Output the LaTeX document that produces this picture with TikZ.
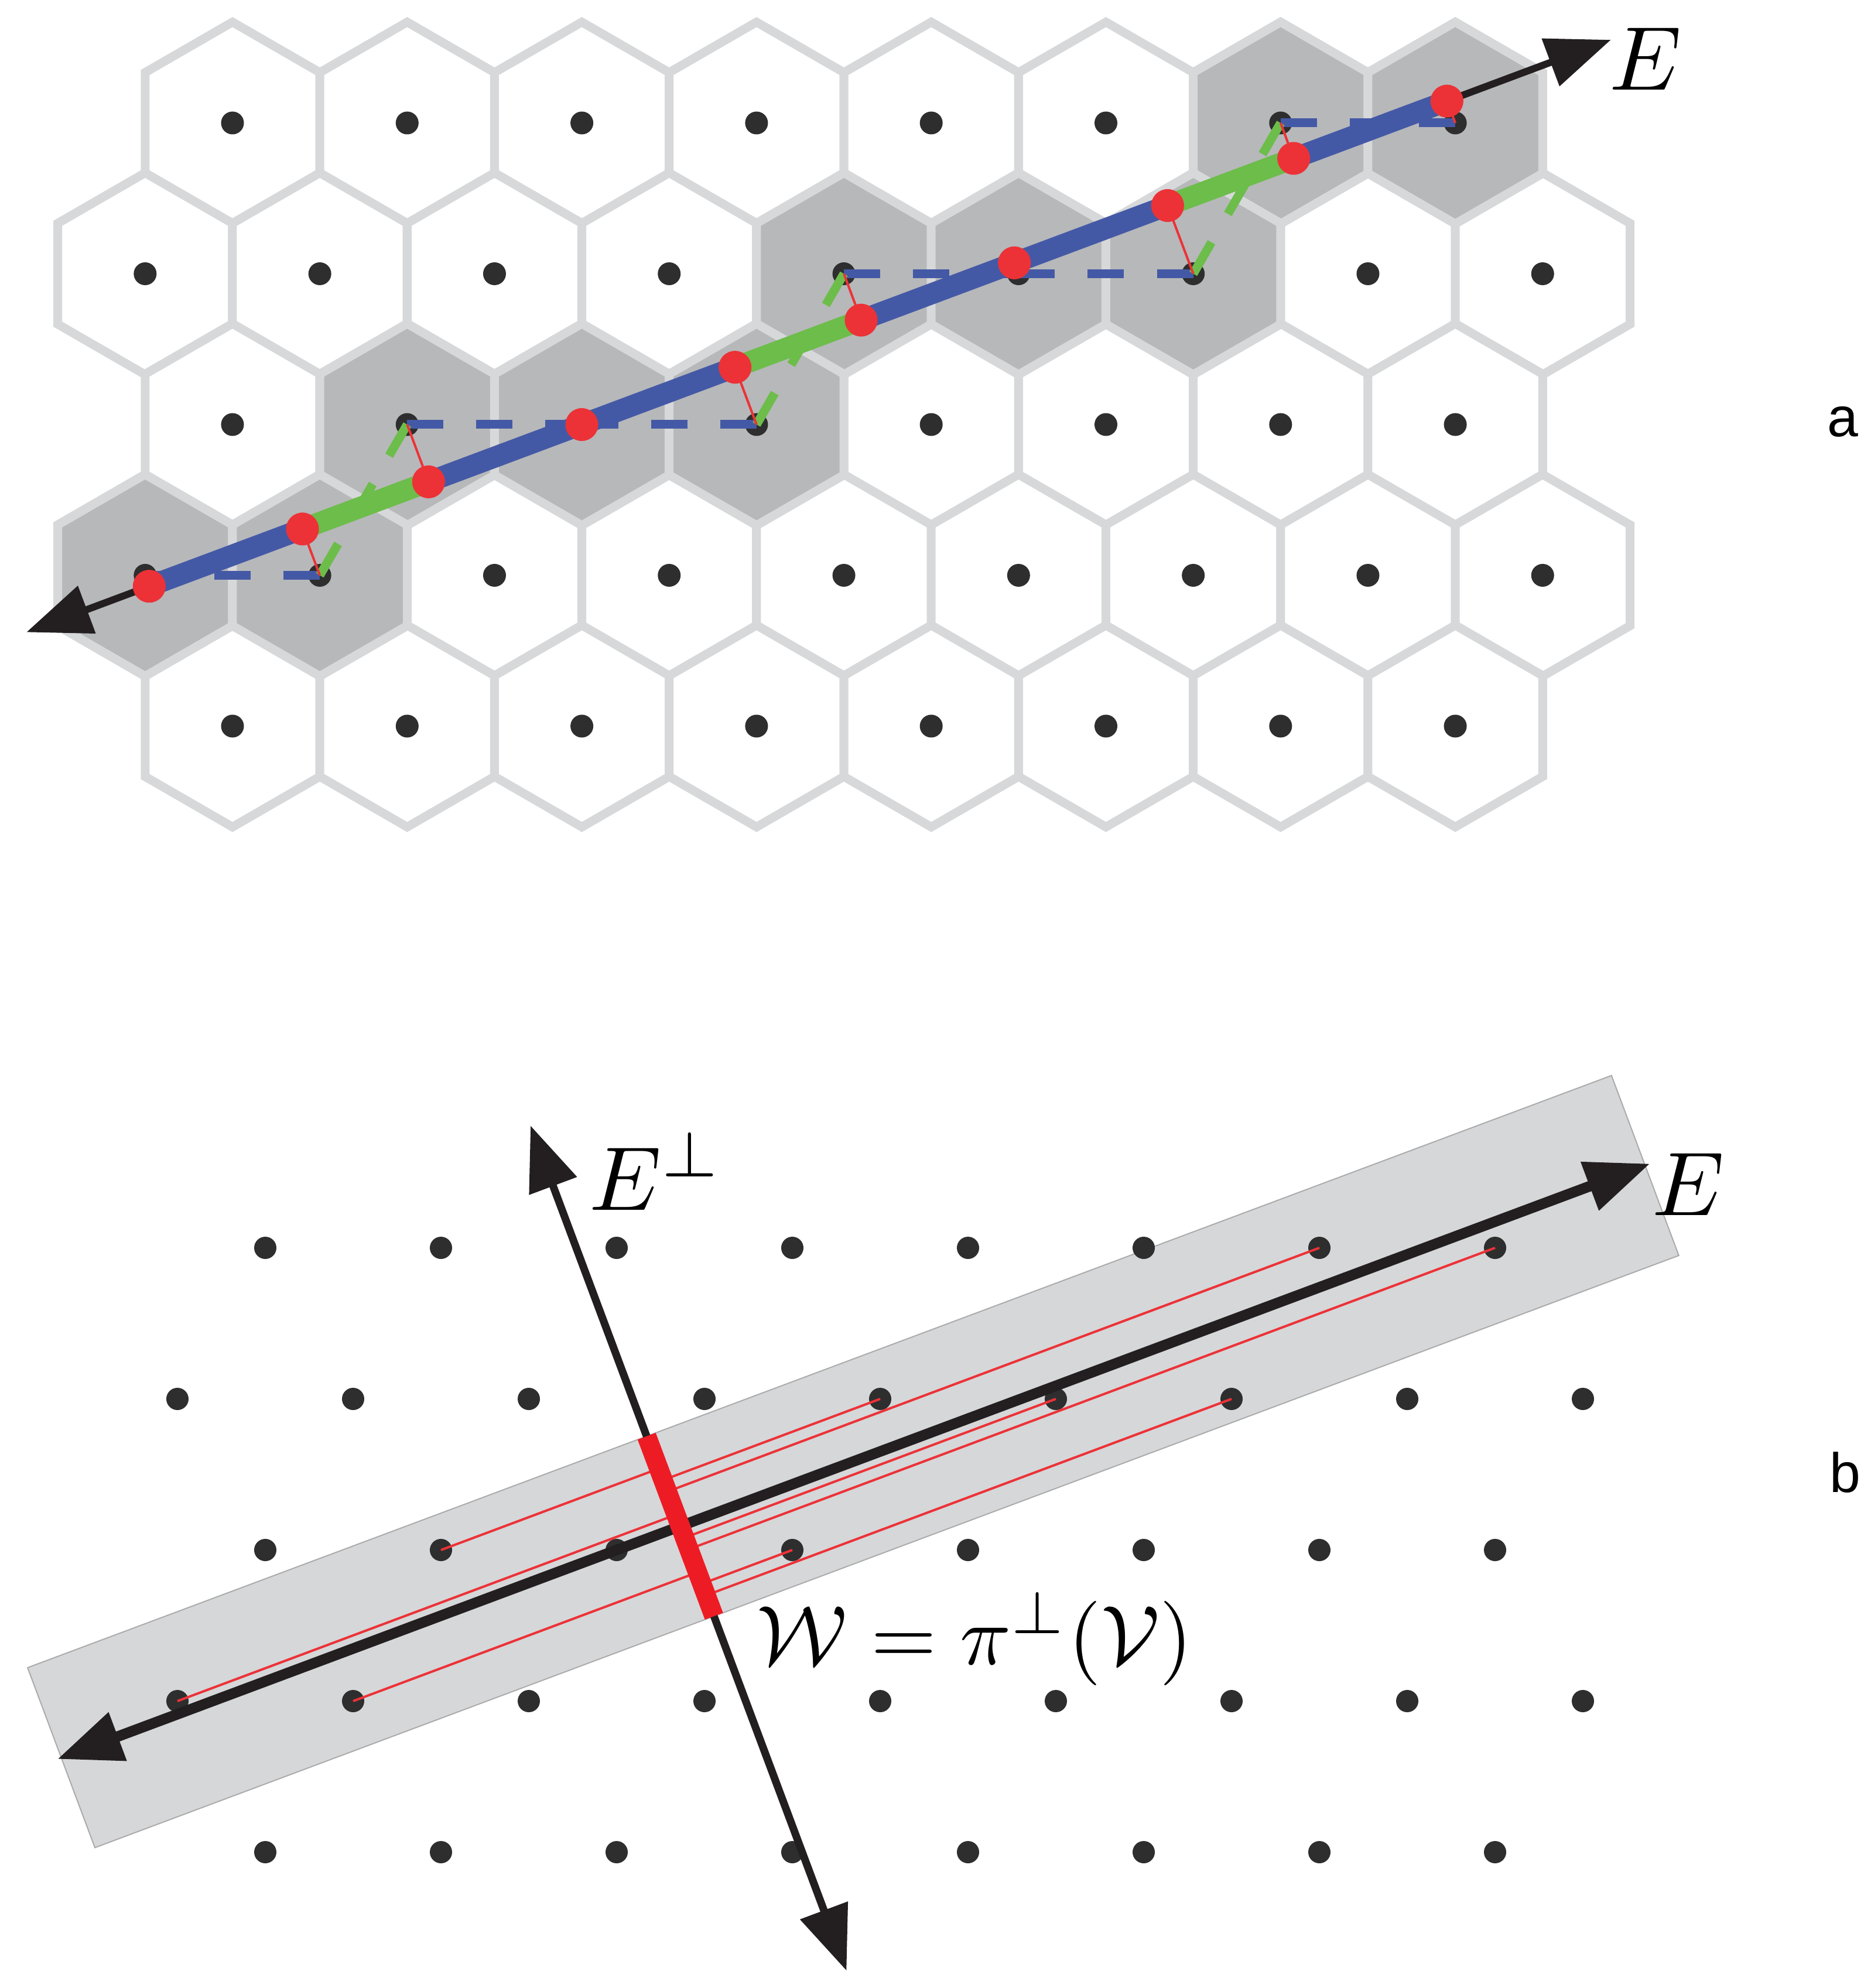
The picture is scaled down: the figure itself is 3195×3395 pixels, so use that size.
\documentclass[tikz,border=0pt]{standalone}
\usepackage{fontspec}
\newfontfamily\labelfont{Liberation Sans}
\usetikzlibrary{calc,arrows.meta}
\definecolor{hexedge}{HTML}{D7D8DA}
\definecolor{hexshade}{HTML}{B7B8BA}
\definecolor{latdot}{HTML}{2E2E2E}
\definecolor{tileblue}{HTML}{4459A6}
\definecolor{tilegreen}{HTML}{6CBD4A}
\definecolor{projred}{HTML}{EC3237}
\definecolor{winred}{HTML}{ED1C24}
\definecolor{arrowblack}{HTML}{231F20}
\definecolor{stripgray}{HTML}{D6D7D9}
\definecolor{stripedge}{HTML}{ABABAB}
\newcommand\hexat[2]{\filldraw[cellstyle,fill=#2] (#1) ++(90:1.722cm) -- ++(210:1.722cm) -- ++(270:1.722cm) -- ++(330:1.722cm) -- ++(30:1.722cm) -- ++(90:1.722cm) -- cycle;}
\begin{document}
\begin{tikzpicture}[x=0.01cm,y=-0.01cm,
  >={Triangle[length=1.1cm,width=0.84cm]},
  cellstyle/.style={draw=hexedge,line width=0.15cm},
  bluedash/.style={tileblue,line width=0.15cm,dash pattern=on 0.62cm off 0.56cm},
  greendash/.style={tilegreen,line width=0.15cm,dash pattern=on 0.62cm off 0.56cm},
  bluetile/.style={tileblue,line width=0.36cm},
  greentile/.style={tilegreen,line width=0.36cm},
  projline/.style={projred,line width=0.04cm},
  mathlabel/.style={inner sep=0pt,scale=4.4,anchor=base west},
  formulalabel/.style={inner sep=0pt,scale=4.1,anchor=base west},
  panellabel/.style={inner sep=0pt,font=\labelfont,scale=2.7,anchor=base west}]
\useasboundingbox (0,0) rectangle (3195,3395);

% ---------------- part a ----------------
\foreach \r in {0,2,4}{\foreach \k in {0,...,7}{\coordinate (a-\r-\k) at ({397+298.3*\k},{210+257.5*\r});}}
\foreach \r in {1,3}{\foreach \k in {0,...,8}{\coordinate (a-\r-\k) at ({247.85+298.3*\k},{210+257.5*\r});}}
\foreach \r/\n in {0/7,1/8,2/7,3/8,4/7}{\foreach \k in {0,...,\n}{\hexat{a-\r-\k}{white}}}
\foreach \r/\k in {0/6,0/7,1/4,1/5,1/6,2/1,2/2,2/3,3/0,3/1}{\hexat{a-\r-\k}{hexshade}}
\foreach \r/\n in {0/7,1/8,2/7,3/8,4/7}{\foreach \k in {0,...,\n}{\fill[latdot] (a-\r-\k) circle[radius=0.195cm];}}

\coordinate (Oa) at (a-2-2);
\coordinate (Ea1) at ($(Oa)+(200.5:10.12cm)$);
\coordinate (Ea2) at ($(Oa)+(20.5:18.75cm)$);
\foreach \i/\p in {1/a-3-0,2/a-3-1,3/a-2-1,4/a-2-2,5/a-2-3,6/a-1-4,7/a-1-5,8/a-1-6,9/a-0-6,10/a-0-7}{
  \coordinate (P\i) at (\p);
  \coordinate (Q\i) at ($(Ea1)!(\p)!(Ea2)$);
}
% dashed lattice steps
\foreach \i/\j in {1/2,3/4,4/5,6/7,7/8,9/10}{\draw[bluedash] (P\i) -- (P\j);}
\foreach \i/\j in {2/3,5/6,8/9}{\draw[greendash] (P\i) -- (P\j);}
% projection lines
\foreach \i in {1,2,3,5,6,7,8,9,10}{\draw[projline] (P\i) -- (Q\i);}
% axis E
\draw[arrowblack,line width=0.12cm,<->] (Ea1) -- (Ea2);
% projected tiles
\foreach \i/\j in {1/2,3/4,4/5,6/7,7/8,9/10}{\draw[bluetile] (Q\i) -- (Q\j);}
\foreach \i/\j in {2/3,5/6,8/9}{\draw[greentile] (Q\i) -- (Q\j);}
\foreach \i in {1,...,10}{\fill[projred] (Q\i) circle[radius=0.28cm];}
\node[mathlabel] (Ealabel) at (2745,154) {$E$};
\node[panellabel] (alabel) at (3119,746) {a};

% ---------------- part b ----------------
\foreach \r in {0,2,4}{\foreach \k in {0,...,7}{\coordinate (b-\r-\k) at ({453+300*\k},{2131+258*\r});}}
\foreach \r in {1,3}{\foreach \k in {0,...,8}{\coordinate (b-\r-\k) at ({303+300*\k},{2131+258*\r});}}
\coordinate (Ob) at (b-2-2);
\coordinate (S1) at ($(Ob)+(200.5:10.12cm)$);
\coordinate (S2) at ($(Ob)+(20.5:18.74cm)$);
\fill[stripgray,draw=stripedge,line width=0.02cm] ($(S1)+(110.5:1.64cm)$) -- ($(S2)+(110.5:1.64cm)$) -- ($(S2)+(-69.5:1.64cm)$) -- ($(S1)+(-69.5:1.64cm)$) -- cycle;
\foreach \r/\n in {0/7,1/8,2/7,3/8,4/7}{\foreach \k in {0,...,\n}{\fill[latdot] (b-\r-\k) circle[radius=0.19cm];}}
\coordinate (Eb1) at ($(Ob)+(200.5:10.19cm)$);
\coordinate (Eb2) at ($(Ob)+(20.5:18.83cm)$);
\coordinate (Ib) at ($(Ob)+(20.5:1.16cm)$);
\coordinate (W1) at ($(Ib)+(110.5:1.64cm)$);
\coordinate (W2) at ($(Ib)+(-69.5:1.64cm)$);
\coordinate (T1) at ($(Ib)+(110.5:7.3cm)$);
\coordinate (T2) at ($(Ib)+(-69.5:8.1cm)$);
\foreach \p in {b-3-0,b-3-1,b-2-1,b-2-3,b-1-4,b-1-5,b-1-6,b-0-6,b-0-7}{\draw[projline] (\p) -- ($(W1)!(\p)!(W2)$);}
\draw[arrowblack,line width=0.18cm,<->] (Eb1) -- (Eb2);
\draw[arrowblack,line width=0.13cm,<->] (T2) -- (T1);
\draw[winred,line width=0.33cm] (W1) -- (W2);
\node[mathlabel] (Eblabel) at (2818,2075) {$E$};
\node[mathlabel] (Eperplabel) at (1003,2066) {$E^{\perp}$};
\node[formulalabel] (Wlabel) at (1290,2842) {$\mathcal{W}=\pi^{\perp}(\mathcal{V})$};
\node[panellabel] (blabel) at (3123,2548) {b};
\end{tikzpicture}
\end{document}
